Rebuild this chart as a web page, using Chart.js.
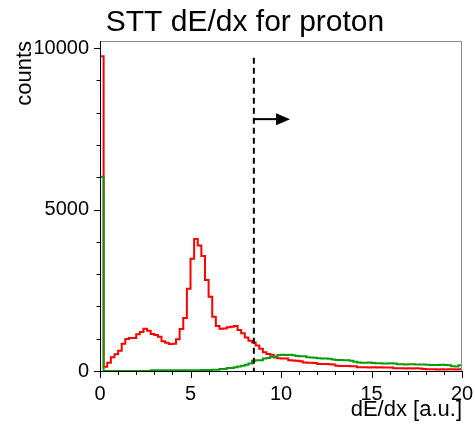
<!DOCTYPE html>
<html>
<head>
<meta charset="utf-8">
<script src="https://cdn.jsdelivr.net/npm/chart.js@4/dist/chart.umd.min.js"></script>
<style>
  html, body { margin: 0; padding: 0; background: #fff; }
  #wrap { width: 475px; height: 426px; }
</style>
</head>
<body>
<div id="wrap"><canvas id="chart-dedx" width="475" height="426"></canvas></div>
<script>
// histogram binning: 100 bins from 0 to 20
var binLow = 0;
var binWidth = 0.2;

// counts per bin
var redCounts = [
    9750, 135, 257, 423, 516, 630, 846, 990, 1020, 1025,
    1135, 1207, 1310, 1248, 1145, 1114, 1062, 920, 876, 836,
    843, 980, 1300, 1640, 2548, 3477, 4087, 3890, 3560, 2817,
    2300, 1681, 1393, 1310, 1320, 1352, 1372, 1393, 1269, 1166,
    1040, 940, 880, 790, 690, 580, 530, 505, 420, 395,
    390, 385, 330, 325, 320, 300, 262, 258, 255, 250,
    220, 218, 215, 212, 200, 160, 158, 155, 152, 150,
    150, 120, 115, 118, 112, 114, 110, 116, 112, 108,
    110, 85, 82, 88, 80, 84, 78, 82, 80, 60,
    55, 52, 58, 50, 54, 48, 52, 56, 50, 55
];
var greenCounts = [
    6015, 0, 0, 0, 0, 0, 0, 0, 0, 0,
    0, 0, 0, 0, 20, 20, 22, 20, 22, 20,
    22, 24, 22, 24, 25, 24, 26, 25, 28, 28,
    30, 35, 40, 60, 62, 90, 95, 120, 140, 160,
    190, 230, 320, 330, 335, 390, 400, 440, 450, 495,
    500, 495, 500, 490, 465, 460, 455, 425, 420, 410,
    395, 390, 385, 380, 360, 340, 340, 335, 330, 320,
    290, 260, 258, 255, 262, 250, 240, 238, 236, 235,
    240, 230, 210, 208, 205, 210, 206, 200, 205, 198,
    190, 186, 188, 185, 190, 186, 180, 150, 140, 180
];

// cut marker
var cutValue = [8.5];
var cutTop = [9700];
var arrowFrom = [8.5];
var arrowTo = [10.5];
var arrowY = [7800];

// tick labels
var xTicks = [0, 5, 10, 15, 20];
var yTicks = [0, 5000, 10000];

var titleText = 'STT dE/dx for proton';
var fontFamily = '"Liberation Sans", Arial, Helvetica, sans-serif';

function histPoints(counts) {
    var pts = [{x: binLow, y: 0}];
    for (var i = 0; i < counts.length; i++) {
        pts.push({x: binLow + i * binWidth, y: counts[i]});
    }
    pts.push({x: binLow + counts.length * binWidth, y: counts[counts.length - 1]});
    return pts;
}

// title, frame, ROOT style tick marks, cut line and arrow
var rootFrame = {
    id: 'rootFrame',
    afterDatasetsDraw: function(chart) {
        var c = chart.ctx, a = chart.chartArea;
        var xs = chart.scales.x, ys = chart.scales.y;
        c.save();
        c.fillStyle = '#000';
        c.font = '30px ' + fontFamily;
        c.textAlign = 'center';
        c.textBaseline = 'middle';
        c.fillText(titleText, 245, 23);

        c.lineWidth = 1;
        c.strokeStyle = '#8a8a8a';
        c.beginPath();
        c.moveTo(a.left, a.top + 0.5);
        c.lineTo(a.right - 0.5, a.top + 0.5);
        c.lineTo(a.right - 0.5, a.bottom);
        c.stroke();

        c.strokeStyle = '#000';
        c.beginPath();
        c.moveTo(a.left + 0.5, a.top);
        c.lineTo(a.left + 0.5, a.bottom + 0.5);
        c.lineTo(a.right, a.bottom + 0.5);
        // x ticks: major every 5, minor every 1
        for (var v = 0; v <= 20; v++) {
            var px = Math.round(xs.getPixelForValue(v)) + 0.5;
            var len = (v % 5 === 0) ? 7 : 4;
            c.moveTo(px, a.bottom);
            c.lineTo(px, a.bottom + len);
        }
        // y ticks: major every 5000, minor every 1000
        for (var w = 0; w <= 10000; w += 1000) {
            var py = Math.round(ys.getPixelForValue(w)) + 0.5;
            var l2 = (w % 5000 === 0) ? 6 : 3.5;
            c.moveTo(a.left, py);
            c.lineTo(a.left - l2, py);
        }
        c.stroke();

        // dashed cut line
        var cx = xs.getPixelForValue(cutValue[0]);
        c.lineWidth = 2;
        c.setLineDash([6, 4]);
        c.beginPath();
        c.moveTo(cx, ys.getPixelForValue(cutTop[0]));
        c.lineTo(cx, ys.getPixelForValue(0));
        c.stroke();
        c.setLineDash([]);

        // arrow
        var x0 = xs.getPixelForValue(arrowFrom[0]);
        var x1 = xs.getPixelForValue(arrowTo[0]);
        var ay = ys.getPixelForValue(arrowY[0]);
        c.beginPath();
        c.moveTo(x0, ay);
        c.lineTo(x1 - 12, ay);
        c.stroke();
        c.beginPath();
        c.moveTo(x1, ay);
        c.lineTo(x1 - 14, ay - 6);
        c.lineTo(x1 - 14, ay + 6);
        c.closePath();
        c.fill();
        c.restore();
    }
};

var ctx = document.getElementById('chart-dedx');
var dedxChart = new Chart(ctx, {
    type: 'line',
    data: {
        datasets: [
            {
                label: 'green',
                data: histPoints(greenCounts),
                borderColor: 'rgb(10,155,10)',
                borderWidth: 2,
                stepped: 'before',
                pointRadius: 0,
                fill: false
            },
            {
                label: 'red',
                data: histPoints(redCounts),
                borderColor: '#ff0000',
                borderWidth: 2,
                stepped: 'before',
                pointRadius: 0,
                fill: false
            }
        ]
    },
    options: {
        responsive: false,
        animation: false,
        layout: {padding: {left: 0, right: 13, top: 41, bottom: 0}},
        plugins: {
            legend: {display: false},
            tooltip: {enabled: false},
            title: {display: false}
        },
        scales: {
            x: {
                type: 'linear',
                min: 0,
                max: 20,
                grid: {display: false, drawTicks: false},
                border: {display: false},
                afterBuildTicks: function(s) { s.ticks = xTicks.map(function(v) { return {value: v}; }); },
                ticks: {
                    maxRotation: 0,
                    autoSkip: false,
                    padding: 11,
                    color: '#000',
                    font: {family: fontFamily, size: 20},
                    callback: function(v) { return String(v); }
                },
                title: {
                    display: true,
                    text: 'dE/dx [a.u.]',
                    align: 'end',
                    color: '#000',
                    font: {family: fontFamily, size: 22},
                    padding: {top: 0, bottom: 3}
                },
                afterFit: function(s) {
                    s.height = 55;
                    s.paddingLeft = 0;
                    s.paddingRight = 0;
                }
            },
            y: {
                min: 0,
                max: 10220,
                grid: {display: false, drawTicks: false},
                border: {display: false},
                afterBuildTicks: function(s) { s.ticks = yTicks.map(function(v) { return {value: v}; }); },
                ticks: {
                    padding: 11,
                    color: '#000',
                    font: {family: fontFamily, size: 20},
                    callback: function(v) { return String(v); }
                },
                title: {
                    display: true,
                    text: 'counts',
                    align: 'end',
                    color: '#000',
                    font: {family: fontFamily, size: 22},
                    padding: {top: 12, bottom: 0}
                },
                afterFit: function(s) {
                    s.width = 100;
                    s.paddingTop = 0;
                    s.paddingBottom = 0;
                }
            }
        }
    },
    plugins: [rootFrame]
});
</script>
</body>
</html>
